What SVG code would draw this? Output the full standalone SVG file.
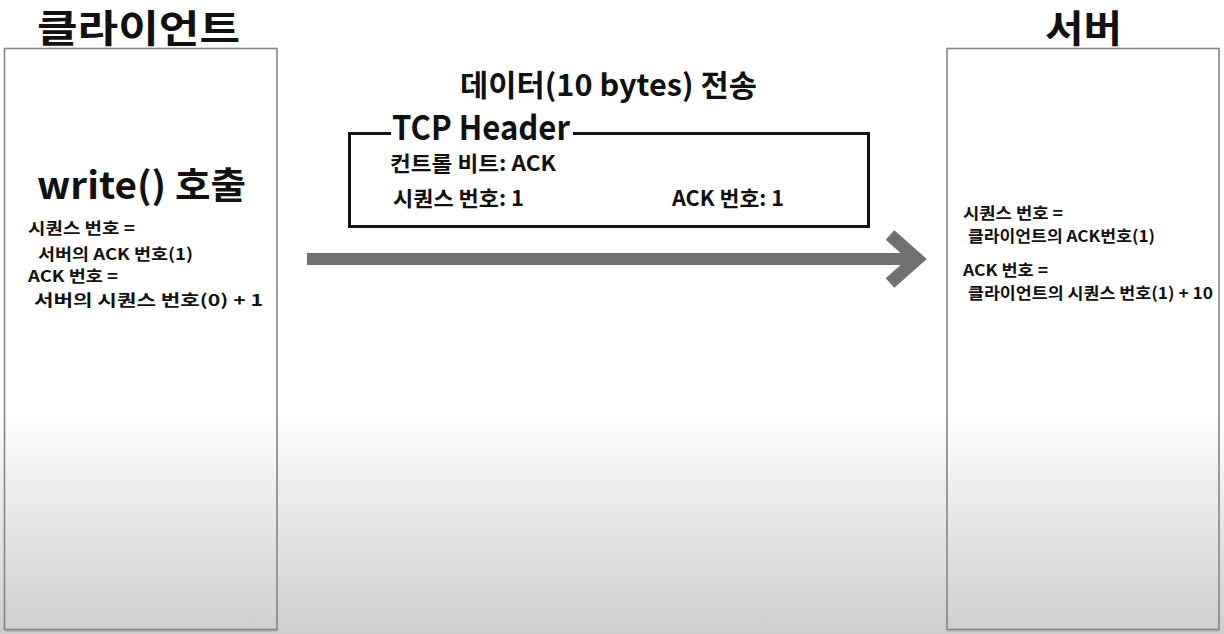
<svg xmlns="http://www.w3.org/2000/svg" width="1224" height="634" viewBox="0 0 1224 634">
<defs>
<linearGradient id="bg" x1="0" y1="0" x2="0" y2="634" gradientUnits="userSpaceOnUse">
<stop offset="0.64" stop-color="#ffffff"/>
<stop offset="1" stop-color="#cecece"/>
</linearGradient>
<style>
text{font-family:"Noto Sans CJK KR","Noto Sans",sans-serif;font-weight:700;fill:#111;}
.title{font-size:38px;}
.small{font-size:16px;}
.hdr{font-size:21px;}
.host{fill:none;stroke:#858585;stroke-width:1.6;}
.conn{stroke:#707070;fill:none;}
</style>
</defs>
<rect x="0" y="0" width="1224" height="634" fill="url(#bg)"/>

<g id="client">
<rect class="host" x="4.5" y="48.5" width="272.5" height="581"/>
<line x1="5" y1="631" x2="277" y2="631" stroke="#999" stroke-width="1"/>
<text class="title" x="37" y="42" textLength="203" lengthAdjust="spacingAndGlyphs">클라이언트</text>
<text x="37" y="199" font-size="37" textLength="209" lengthAdjust="spacingAndGlyphs">write() 호출</text>
<text class="small" x="28" y="234" textLength="107" lengthAdjust="spacingAndGlyphs">시퀀스 번호 =</text>
<text class="small" x="38" y="260" textLength="155" lengthAdjust="spacingAndGlyphs">서버의 ACK 번호(1)</text>
<text class="small" x="28" y="282" textLength="90" lengthAdjust="spacingAndGlyphs">ACK 번호 =</text>
<text class="small" x="34" y="306" textLength="229" lengthAdjust="spacingAndGlyphs">서버의 시퀀스 번호(0) + 1</text>
</g>

<g id="server">
<rect class="host" x="947" y="48.5" width="272" height="581"/>
<line x1="947" y1="631" x2="1219" y2="631" stroke="#aaa" stroke-width="1"/>
<text class="title" x="1045" y="42" textLength="77" lengthAdjust="spacingAndGlyphs">서버</text>
<text class="small" x="963" y="219" textLength="100" lengthAdjust="spacingAndGlyphs">시퀀스 번호 =</text>
<text class="small" x="968" y="242" textLength="187" lengthAdjust="spacingAndGlyphs">클라이언트의 ACK번호(1)</text>
<text class="small" x="963" y="276" textLength="85" lengthAdjust="spacingAndGlyphs">ACK 번호 =</text>
<text class="small" x="968" y="299" textLength="245" lengthAdjust="spacingAndGlyphs">클라이언트의 시퀀스 번호(1) + 10</text>
</g>

<g id="tcp-header">
<path d="M391 133.5 H349.5 V226.5 H868.5 V133.5 H573" fill="none" stroke="#111" stroke-width="3"/>
<text x="392" y="140" font-size="34" textLength="178" lengthAdjust="spacingAndGlyphs">TCP Header</text>
<text class="hdr" x="390" y="171" textLength="166" lengthAdjust="spacingAndGlyphs">컨트롤 비트: ACK</text>
<text class="hdr" x="393" y="206" textLength="131" lengthAdjust="spacingAndGlyphs">시퀀스 번호: 1</text>
<text class="hdr" x="672" y="206" textLength="112" lengthAdjust="spacingAndGlyphs">ACK 번호: 1</text>
</g>

<g id="data-label">
<text x="460" y="96" font-size="30" textLength="297" lengthAdjust="spacingAndGlyphs">데이터(10 bytes) 전송</text>
</g>

<g id="connectors">
<line class="conn" x1="307" y1="259" x2="918" y2="259" stroke-width="12"/>
<polyline class="conn" points="890,235 917,259 890,283" stroke-width="13" stroke-linejoin="miter"/>
</g>
</svg>
